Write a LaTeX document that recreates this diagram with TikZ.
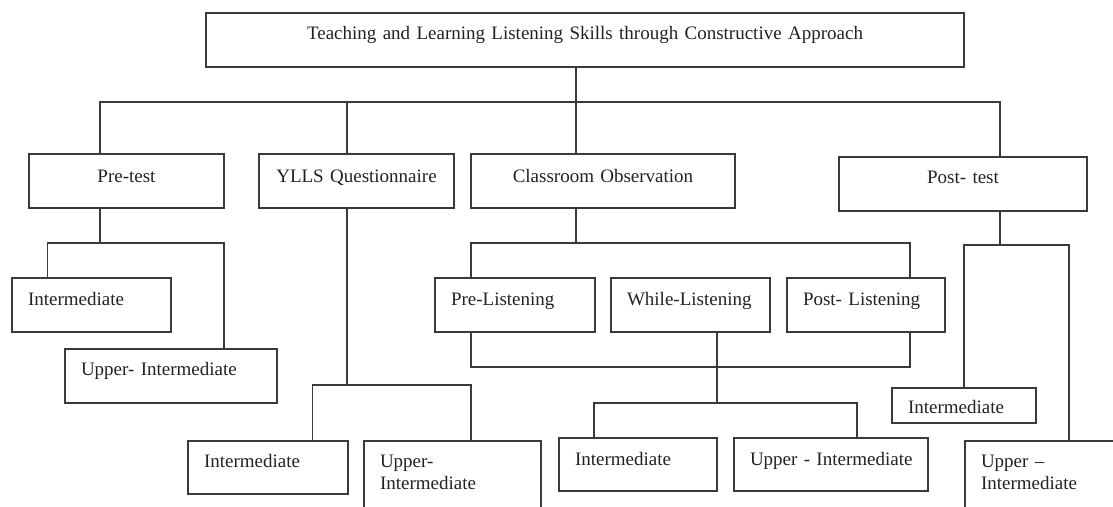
\documentclass[tikz,border=0pt]{standalone}
\usepackage{fontspec}
\setmainfont{Liberation Serif}
\definecolor{linec}{HTML}{3A3A3A}
\definecolor{textc}{HTML}{222222}
\tikzset{
  bx/.style={draw=linec, line width=1.8pt, inner ysep=0pt, outer sep=0pt, anchor=north west, text=textc},
  lb/.style n args={3}{bx, align=left, inner xsep=16pt, text width=#1, text height=#2, text depth=#3},
  cb/.style n args={3}{bx, align=center, inner xsep=0pt, text width=#1, text height=#2, text depth=#3},
  ln/.style={draw=linec, line width=1.8pt}
}
\begin{document}
\begin{tikzpicture}[x=1pt, y=-1pt, font=\fontsize{19}{22}\selectfont]
\useasboundingbox (0,0) rectangle (1113,506);
\clip (0,0) rectangle (1113,506);
% boxes
\node[cb={758pt}{26pt}{28pt}] (title) at (206,13) {Teaching and Learning Listening Skills through Constructive Approach};
\node[cb={195pt}{28pt}{26pt}] (pretest) at (29,154) {Pre-test};
\node[cb={195pt}{28pt}{26pt}] (ylls) at (259,154) {YLLS Questionnaire};
\node[cb={264pt}{28pt}{26pt}] (classroom) at (471,154) {Classroom Observation};
\node[cb={248pt}{26pt}{28pt}] (posttest) at (839,157) {Post- test};
\node[lb={127pt}{27pt}{27pt}] (preInt) at (12,278) {Intermediate};
\node[lb={180pt}{26pt}{28pt}] (preUp) at (65,349) {\mbox{Upper- Intermediate}};
\node[lb={128pt}{26pt}{27pt}] (yllsInt) at (188,441) {Intermediate};
\node[lb={145pt}{26pt}{54pt}] (yllsUp) at (364,441) {Upper-\\Intermediate};
\node[lb={128pt}{27pt}{27pt}] (preL) at (435,278) {\mbox{Pre-Listening}};
\node[lb={127pt}{27pt}{27pt}] (whileL) at (611,278) {\mbox{While-Listening}};
\node[lb={126pt}{27pt}{27pt}] (postL) at (787,278) {\mbox{Post- Listening}};
\node[lb={126pt}{27pt}{26pt}] (obsInt) at (559,438) {Intermediate};
\node[lb={162pt}{27pt}{26pt}] (obsUp) at (734,438) {\mbox{Upper - Intermediate}};
\node[lb={112pt}{25pt}{10pt}] (postInt) at (892,388) {Intermediate};
\node[lb={168pt}{26pt}{54pt}] (postUp) at (965,441) {Upper –\\Intermediate};
% junction coordinates
\coordinate (bL) at (100,102);
\coordinate (bY) at (347,102);
\coordinate (bC) at (576,102);
\coordinate (bR) at (1000,102);
\coordinate (p1) at (47.5,243);
\coordinate (p2) at (224,243);
\coordinate (y1) at (312.5,385);
\coordinate (y2) at (471,385);
\coordinate (c1) at (471,243);
\coordinate (c2) at (910,243);
\coordinate (c3) at (471,367);
\coordinate (c4) at (910,367);
\coordinate (wm) at (717,403);
\coordinate (w1) at (594,403);
\coordinate (w2) at (857,403);
\coordinate (q1) at (964,245);
\coordinate (q2) at (1069,245);
% connectors
\draw[ln] (pretest.north -| bL) -- (bL) -- (bR) -- (posttest.north -| bR);
\draw[ln] (title.south -| bC) -- (classroom.north -| bC);
\draw[ln] (bY) -- (ylls.north -| bY);
\draw[ln] (pretest.south -| bL) -- (bL |- p1);
\draw[ln] (preInt.north -| p1) -- (p1) -- (p2) -- (preUp.north -| p2);
\draw[ln] (ylls.south -| bY) -- (bY |- y1);
\draw[ln] (yllsInt.north -| y1) -- (y1) -- (y2) -- (yllsUp.north -| y2);
\draw[ln] (classroom.south -| bC) -- (bC |- c1);
\draw[ln] (preL.north -| c1) -- (c1) -- (c2) -- (postL.north -| c2);
\draw[ln] (preL.south -| c3) -- (c3) -- (c4) -- (postL.south -| c4);
\draw[ln] (whileL.south -| wm) -- (wm);
\draw[ln] (obsInt.north -| w1) -- (w1) -- (w2) -- (obsUp.north -| w2);
\draw[ln] (posttest.south -| bR) -- (bR |- q1);
\draw[ln] (postInt.north -| q1) -- (q1) -- (q2) -- (postUp.north -| q2);
\end{tikzpicture}
\end{document}
